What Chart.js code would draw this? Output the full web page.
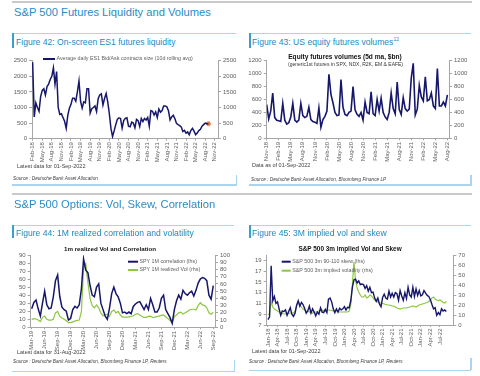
<!DOCTYPE html>
<html><head><meta charset="utf-8">
<script src="https://cdn.jsdelivr.net/npm/chart.js@4.4.0/dist/chart.umd.min.js"></script>
<style>
html,body{margin:0;padding:0;background:#fff;}
body{width:480px;height:376px;position:relative;overflow:hidden;font-family:'Liberation Sans',Arial,Helvetica,sans-serif;}
.t{position:absolute;white-space:nowrap;line-height:1;}
.h{font-size:11.2px;color:#2b8cc4;}
.f{font-size:8.6px;color:#1f88c0;}
.f sup{font-size:5px;vertical-align:4px;line-height:0;}
.n{font-size:5.5px;color:#404040;}
.s{font-size:4.7px;color:#404040;font-style:italic;}
.r{position:absolute;}
.lb{background:#a9d6ec;}
.db{background:#3a9fd0;}
.gr{background:#c9c9c9;}
canvas{position:absolute;}
</style></head><body>

<div class="r gr" style="left:12px;top:1px;width:460px;height:2px"></div>
<div class="t h" style="left:14px;top:7px">S&amp;P 500 Futures Liquidity and Volumes</div>

<div class="r lb" style="left:12px;top:32.5px;width:224px;height:1.5px"></div>
<div class="r db" style="left:12px;top:33px;width:2px;height:15px"></div>
<div class="t f" style="left:16px;top:38.3px">Figure 42: On-screen ES1 futures liquidity</div>
<canvas id="c42" width="226" height="120" style="left:12px;top:50px"></canvas>
<div class="t n" style="left:17px;top:164.3px">Latest data for 01-Sep-2022</div>
<div class="t s" style="left:13px;top:177.2px">Source : Deutsche Bank Asset Allocation</div>
<div class="r lb" style="left:12px;top:184px;width:225px;height:1.5px"></div>
<div class="r lb" style="left:235.5px;top:175px;width:1.5px;height:10.5px"></div>

<div class="r lb" style="left:249px;top:32.5px;width:222px;height:1.5px"></div>
<div class="r db" style="left:249px;top:33px;width:2px;height:15px"></div>
<div class="t f" style="left:252px;top:38.3px">Figure 43: US equity futures volumes<sup>12</sup></div>
<canvas id="c43" width="226" height="120" style="left:247px;top:50px"></canvas>
<div class="t n" style="left:252px;top:163.3px">Data as of 01-Sep-2022</div>
<div class="t s" style="left:251px;top:177.7px">Source : Deutsche Bank Asset Allocation, Bloomberg Finance LP</div>
<div class="r lb" style="left:249px;top:184px;width:222px;height:1.5px"></div>
<div class="r lb" style="left:470px;top:175px;width:1.5px;height:10.5px"></div>

<div class="r gr" style="left:12px;top:192.5px;width:460px;height:2px"></div>
<div class="t h" style="left:14px;top:199.2px">S&amp;P 500 Options: Vol, Skew, Correlation</div>

<div class="r lb" style="left:12px;top:224.5px;width:222px;height:1.5px"></div>
<div class="r db" style="left:12px;top:225px;width:2px;height:13px"></div>
<div class="t f" style="left:16px;top:228.8px">Figure 44: 1M realized correlation and volatility</div>
<canvas id="c44" width="226" height="110" style="left:12px;top:242px"></canvas>
<div class="t n" style="left:17px;top:349.6px">Latest data for 31-Aug-2022</div>
<div class="t s" style="left:13px;top:360.2px">Source : Deutsche Bank Asset Allocation, Bloomberg Finance LP, Reuters</div>
<div class="r lb" style="left:12px;top:370.5px;width:223px;height:1.5px"></div>
<div class="r lb" style="left:233.5px;top:360px;width:1.5px;height:12px"></div>

<div class="r lb" style="left:249px;top:224.5px;width:222px;height:1.5px"></div>
<div class="r db" style="left:249px;top:225px;width:2px;height:13px"></div>
<div class="t f" style="left:252px;top:228.8px">Figure 45: 3M implied vol and skew</div>
<canvas id="c45" width="226" height="108" style="left:247px;top:242px"></canvas>
<div class="t n" style="left:252px;top:349px">Latest data for 01-Sep-2022</div>
<div class="t s" style="left:249px;top:360.4px">Source : Deutsche Bank Asset Allocation, Bloomberg Finance LP, Reuters</div>
<div class="r lb" style="left:249px;top:369.5px;width:222px;height:1.5px"></div>
<div class="r lb" style="left:470px;top:358px;width:1.5px;height:12px"></div>

<script>
// ---------- DATA ----------
// Figure 42: months from Feb-18, every half month
const es1TickLabels = ['Feb-18','May-18','Aug-18','Nov-18','Feb-19','May-19','Aug-19','Nov-19','Feb-20','May-20','Aug-20','Nov-20','Feb-21','May-21','Aug-21','Nov-21','Feb-22','May-22','Aug-22','Nov-22'];
const es1YTicks = [0,500,1000,1500,2000,2500];
const es1Size = [
 2450,700,1150,1000,880,1350,1550,1600,1400,1670,
 1750,1900,2000,2270,1750,2150,1000,780,800,680,
 560,330,750,980,1100,1300,1300,1200,1500,1850,
 1200,980,1180,1150,1600,1600,820,960,1000,1050,
 870,1280,1400,1440,1080,1290,1450,1180,800,330,
 70,250,450,620,670,650,340,580,650,670,
 400,380,530,500,350,620,580,390,650,550,
 650,600,680,400,900,880,760,860,680,950,
 850,900,1050,1050,1020,900,600,700,750,650,
 490,450,420,380,230,270,180,220,130,260,
 330,240,130,180,260,300,400,450,500,480,
 480];

// Figure 43: months from Nov-18, every half month
const futTickLabels = ['Nov-18','Feb-19','May-19','Aug-19','Nov-19','Feb-20','May-20','Aug-20','Nov-20','Feb-21','May-21','Aug-21','Nov-21','Feb-22','May-22','Aug-22'];
const futYTicks = [0,200,400,600,800,1000,1200];
const futVol = [
 520,300,420,700,320,280,270,260,540,280,
 220,240,330,540,280,250,280,540,350,320,
 340,480,290,260,250,230,470,170,290,340,
 420,990,680,550,400,350,360,910,480,370,
 350,400,420,800,440,370,340,400,280,560,
 400,380,720,380,350,600,420,620,400,330,
 290,400,700,460,380,870,450,370,630,460,
 420,450,930,1160,360,450,820,640,580,950,
 580,600,700,500,460,1080,500,500,560,500,
 670];

// Figure 44: months from Mar-19, every half month
const rcTickLabels = ['Mar-19','Jun-19','Sep-19','Dec-19','Mar-20','Jun-20','Sep-20','Dec-20','Mar-21','Jun-21','Sep-21','Dec-21','Mar-22','Jun-22','Sep-22'];
const rcLeftTicks = [0,10,20,30,40,50,60,70,80,90];
const rcRightTicks = [0,10,20,30,40,50,60,70,80,90,100];
const spyCorr = [
 23,31,34,23,14,30,45,28,23,24,
 38,58,65,38,25,22,20,9,11,22,
 26,24,28,48,85,71,68,52,40,38,
 50,54,30,22,14,10,24,42,50,42,
 38,30,18,19,17,19,17,26,29,31,
 32,27,22,28,22,36,28,19,19,24,
 36,40,22,17,12,5,22,33,40,35,
 46,42,40,43,45,39,46,55,60,62,
 61,58,40,35,52];
const spyVol = [
 11,12,11.5,10,8,13.8,15.5,11,10,10,
 11,20,22,15,13,11,9,6.5,6.5,7.5,
 8.5,9.5,10,22,82,88,62,40,30,27,
 31,27,20,16,17,18,15,22,24,20,
 22,17,14,14,14,14.5,15,16,18,19,
 17,15,13.8,13.8,15,15.5,13.5,14,15,15.5,
 16.5,17,14.5,12,9.5,6.5,15,17,20,21,
 18.4,20,22,24,25,25,24,30,34,31,
 30,27,20,18,21];

// Figure 45: months from Jan-18, every half month
const ivTickLabels = ['Jan-18','Apr-18','Jul-18','Oct-18','Jan-19','Apr-19','Jul-19','Oct-19','Jan-20','Apr-20','Jul-20','Oct-20','Jan-21','Apr-21','Jul-21','Oct-21','Jan-22','Apr-22','Jul-22'];
const ivLeftTicks = [7,9,11,13,15,17,19];
const ivRightTicks = [0,10,20,30,40,50,60,70];
const skew = [
 8.0,8.5,18.0,11.5,12.3,11.0,11.3,10.0,8.8,9.6,
 9.5,9.8,8.8,9.5,10.2,9.0,8.6,9.2,10.7,11.5,
 10.5,11.2,10.8,10.1,9.2,9.6,10.5,9.2,10.0,9.4,
 8.7,9.4,9.0,10.2,9.4,9.3,9.9,9.3,11.8,12.0,
 11.3,10.0,9.3,10.0,9.4,10.1,9.8,10.0,10.4,9.8,
 10.3,10.2,11.5,14.0,15.4,15.5,14.8,15.2,14.5,14.6,
 14.5,13.8,14.3,13.3,14.0,13.0,13.1,12.0,11.4,12.0,
 10.9,10.4,12.1,12.7,12.0,11.8,13.3,12.2,12.9,12.2,
 13.0,12.8,11.6,13.4,12.4,11.6,13.0,11.9,14.0,12.6,
 12.2,14.0,12.3,13.7,12.5,13.4,12.4,12.6,13.4,12.9,
 12.5,12.3,11.7,10.8,10.0,10.2,8.8,9.3,8.9,10.0,
 9.6,9.8,9.5];
const impVol = [
 10,12,24,18,16,15,14,13,12,11.5,
 11,11,11,11.5,12,12,12,14,19,23,
 20,18,16,15,14,13.5,13,12.5,12,12.5,
 13,13.5,14,14.5,15,14.5,14,14.5,15,15,
 14.5,14,14,14,13.5,13,13,13,13,13,
 13,14,20,40,63,45,37,33,30,28,
 28,30,27,28,30,29,27,25,24,23,
 22,22,21.5,21,20.5,20,20,19.5,19,19,
 18,17,16.5,16,16.5,17,17,17,17.5,18,
 18.5,19,18.5,18,19,20,20.5,21,21.5,22,
 22.5,23.5,25,27,28,26,25,24.5,25,24,
 22.5,22,23.5];

// ---------- STYLE ----------
const FONT = "'Liberation Sans', Arial, Helvetica, sans-serif";
const NAVY = '#16166b', GREEN = '#8dc63f', ORANGE = '#f07d3a';
const TICK = '#606060', AXIS = '#a6a6a6';

const insetLegend = {
  id: 'insetLegend',
  afterDraw(chart, args, opts) {
    if (!opts || !opts.items) return;
    const ctx = chart.ctx; ctx.save();
    ctx.font = opts.font; ctx.textBaseline = 'middle'; ctx.textAlign = 'left';
    opts.items.forEach(it => {
      const ds = chart.data.datasets[it.dataset];
      ctx.strokeStyle = ds.borderColor; ctx.lineWidth = 2;
      ctx.beginPath(); ctx.moveTo(it.x, it.y); ctx.lineTo(it.x + opts.lineLen, it.y); ctx.stroke();
      ctx.fillStyle = opts.color;
      ctx.fillText(ds.label, it.x + opts.lineLen + 1.5, it.y);
    });
    ctx.restore();
  }
};
const insetTitle = {
  id: 'insetTitle',
  afterDraw(chart, args, opts) {
    if (!opts || !opts.lines) return;
    const ctx = chart.ctx; ctx.save();
    ctx.textAlign = 'center'; ctx.textBaseline = 'middle';
    opts.lines.forEach(l => { ctx.font = l.font; ctx.fillStyle = l.color; ctx.fillText(l.text, l.x, l.y); });
    ctx.restore();
  }
};
Chart.register(insetLegend, insetTitle);

function series(start, step, vals) { return vals.map((v, i) => ({x: start + i * step, y: v})); }
function tickVals(labels, step) { return labels.map((_, i) => i * step); }

function xAxis(min, max, labels, height) {
  const vals = tickVals(labels, 3);
  return {
    type: 'linear', min, max,
    afterBuildTicks: s => { s.ticks = vals.map(v => ({value: v})); },
    afterFit: s => { s.height = height; },
    ticks: {autoSkip: false, minRotation: 90, maxRotation: 90, padding: 1.5, color: TICK,
      font: {size: 6, family: FONT}, callback: (v, i) => labels[i]},
    grid: {display: true, drawOnChartArea: false, drawTicks: true, tickLength: 2, color: AXIS},
    border: {display: true, color: AXIS, width: 1}
  };
}
function yAxis(pos, min, max, ticks, width) {
  return {
    type: 'linear', position: pos, min, max,
    afterBuildTicks: s => { s.ticks = ticks.map(v => ({value: v})); },
    afterFit: s => { s.width = width; },
    ticks: {autoSkip: false, color: TICK, font: {size: 6, family: FONT}, padding: 2,
      callback: (v, i) => String(ticks[i])},
    grid: {display: true, drawOnChartArea: false, drawTicks: true, tickLength: 3, color: AXIS},
    border: {display: true, color: AXIS, width: 1}
  };
}
function opts(padTop, scales, plugins) {
  return {
    responsive: false, animation: false, devicePixelRatio: 1,
    layout: {padding: {top: padTop, left: 0, right: 0, bottom: 0}},
    scales,
    elements: {point: {radius: 0}, line: {tension: 0}},
    plugins: Object.assign({legend: {display: false}, tooltip: {enabled: false}, title: {display: false}}, plugins)
  };
}
const LEGFONT = '5.3px ' + FONT;

// Figure 42
new Chart(document.getElementById('c42'), {
  type: 'line',
  data: {datasets: [
    {label: 'Average daily ES1 Bid/Ask contracts size (10d rolling avg)', data: series(0, 0.5, es1Size),
     borderColor: NAVY, borderWidth: 1.5, pointRadius: 0, fill: false},
    {label: 'Latest', data: [{x: (es1Size.length - 1) * 0.5, y: es1Size[es1Size.length - 1]}],
     borderColor: ORANGE, backgroundColor: ORANGE, pointRadius: 2, showLine: false}
  ]},
  options: opts(10.7, {
    x: xAxis(-0.2, 58, es1TickLabels, 31.3),
    y: yAxis('left', 0, 2500, es1YTicks, 20),
    y2: yAxis('right', 0, 2500, es1YTicks, 20)
  }, {insetLegend: {font: LEGFONT, color: TICK, lineLen: 12, items: [{dataset: 0, x: 31, y: 9}]}})
});

// Figure 43
new Chart(document.getElementById('c43'), {
  type: 'line',
  data: {datasets: [
    {label: 'Equity futures volumes', data: series(0, 0.5, futVol), borderColor: NAVY, borderWidth: 1.6, pointRadius: 0, fill: false}
  ]},
  options: opts(10.7, {
    x: xAxis(0, 45.4, futTickLabels, 31.7),
    y: yAxis('left', 0, 1200, futYTicks, 19.7),
    y2: yAxis('right', 0, 1200, futYTicks, 24)
  }, {insetTitle: {lines: [
    {text: 'Equity futures volumes (5d ma, $bn)', font: 'bold 6.6px ' + FONT, color: '#111', x: 98, y: 6.7},
    {text: '(generic1st futures in SPX, NDX, R2K, EM & EAFE)', font: '5px ' + FONT, color: '#333', x: 98.5, y: 14.3}
  ]}})
});

// Figure 44
new Chart(document.getElementById('c44'), {
  type: 'line',
  data: {datasets: [
    {label: 'SPY 1M correlation (lhs)', data: series(0, 0.5, spyCorr), borderColor: NAVY, borderWidth: 1.5, yAxisID: 'y', pointRadius: 0, fill: false},
    {label: 'SPY 1M realized Vol (rhs)', data: series(0, 0.5, spyVol), borderColor: GREEN, borderWidth: 1.2, yAxisID: 'y2', pointRadius: 0, fill: false}
  ]},
  options: opts(13, {
    x: xAxis(-0.23, 42.4, rcTickLabels, 24.7),
    y: yAxis('left', 0, 90, rcLeftTicks, 18.7),
    y2: yAxis('right', 0, 100, rcRightTicks, 23)
  }, {
    insetTitle: {lines: [{text: '1m realized Vol and Correlation', font: 'bold 6.2px ' + FONT, color: '#111', x: 98, y: 7}]},
    insetLegend: {font: LEGFONT, color: TICK, lineLen: 10, items: [{dataset: 0, x: 116, y: 19.7}, {dataset: 1, x: 116, y: 28}]}
  })
});

// Figure 45
new Chart(document.getElementById('c45'), {
  type: 'line',
  data: {datasets: [
    {label: 'S&P 500 3m 90-110 skew (lhs)', data: series(0, 0.5, skew), borderColor: NAVY, borderWidth: 1.4, yAxisID: 'y', pointRadius: 0, fill: false},
    {label: 'S&P 500 3m implied volatility (rhs)', data: series(0, 0.5, impVol), borderColor: GREEN, borderWidth: 1.2, yAxisID: 'y2', pointRadius: 0, fill: false}
  ]},
  options: opts(13, {
    x: xAxis(-0.4, 58.2, ivTickLabels, 25),
    y: yAxis('left', 7, 20, ivLeftTicks, 19.7),
    y2: yAxis('right', 0, 70, ivRightTicks, 19.7)
  }, {
    insetTitle: {lines: [{text: 'S&P 500 3m implied Vol and Skew', font: 'bold 6.4px ' + FONT, color: '#111', x: 103, y: 7}]},
    insetLegend: {font: LEGFONT, color: TICK, lineLen: 9, items: [{dataset: 0, x: 34.7, y: 19.7}, {dataset: 1, x: 34.7, y: 28.7}]}
  })
});
</script>
</body></html>
